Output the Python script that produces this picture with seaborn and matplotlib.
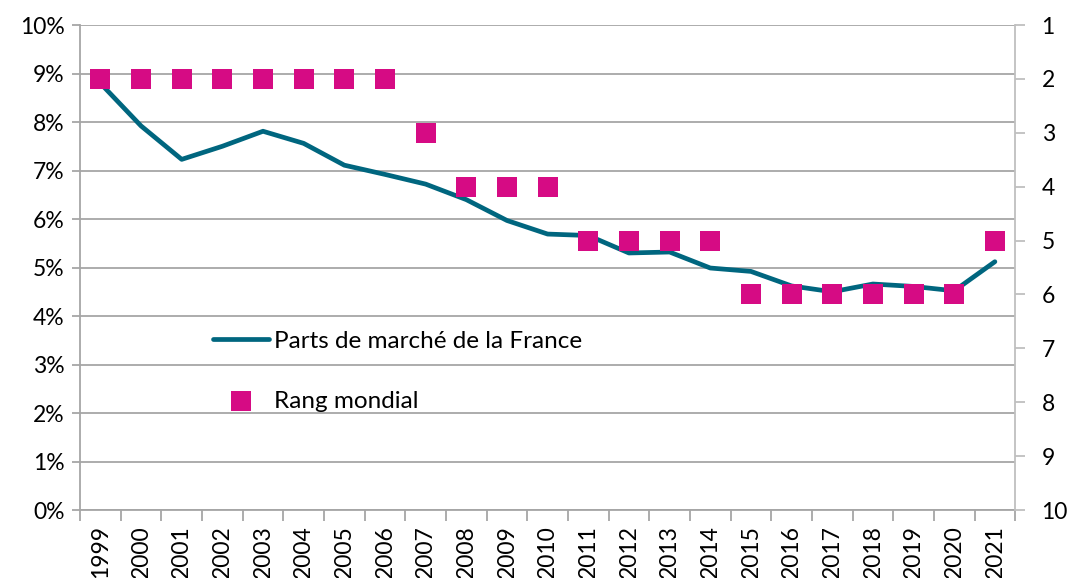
import numpy as np
import pandas as pd
import matplotlib
matplotlib.use("Agg")
import matplotlib.pyplot as plt
import seaborn as sns

# Données
annees = ["1999", "2000", "2001", "2002", "2003", "2004", "2005", "2006", "2007", "2008", "2009", "2010",
          "2011", "2012", "2013", "2014", "2015", "2016", "2017", "2018", "2019", "2020", "2021"]
parts_marche = [8.80, 7.92, 7.23, 7.50, 7.81, 7.56, 7.11, 6.92, 6.72, 6.40, 5.97, 5.69,
                5.66, 5.30, 5.32, 4.99, 4.92, 4.62, 4.50, 4.66, 4.61, 4.52, 5.12]
rang_mondial = [2, 2, 2, 2, 2, 2, 2, 2, 3, 4, 4, 4, 5, 5, 5, 5, 6, 6, 6, 6, 6, 6, 5]

df = pd.DataFrame({"annee": annees, "parts": parts_marche, "rang": rang_mondial})

sns.set_style("white")
plt.rcParams["font.family"] = ["Lato", "DejaVu Sans"]
plt.rcParams["text.color"] = "black"

bleu = "#00667f"
rose = "#d60b84"
gris = "#a6a6a6"

fig = plt.figure(figsize=(10.7, 5.78), dpi=100)
ax = fig.add_axes([0.0748, 0.1176, 0.874, 0.8391])

sns.lineplot(data=df, x="annee", y="parts", ax=ax, color=bleu, linewidth=3.4, sort=False,
             label="Parts de marché de la France", solid_capstyle="round", solid_joinstyle="round")

ax2 = ax.twinx()
sns.scatterplot(data=df, x="annee", y="rang", ax=ax2, marker="s", s=200, color=rose,
                linewidth=0, label="Rang mondial", zorder=3)

# axe gauche
ax.set_ylim(0, 10)
ax.set_yticks(np.arange(0, 11, 1))
ax.set_yticklabels([f"{v}%" for v in range(0, 11)], fontsize=16.5)
ax.yaxis.grid(True, color=gris, linewidth=1.3)
ax.set_axisbelow(True)
ax.tick_params(axis="y", which="major", length=6, color=gris, width=1.3, pad=5, labelcolor="black")

# axe des x : étiquettes au centre, graduations entre catégories
ax.set_xlim(-0.5, len(annees) - 0.5)
ax.set_xticks(np.arange(len(annees)))
ax.set_xticklabels(annees, rotation=90, fontsize=16.5)
ax.set_xticks(np.arange(-0.5, len(annees), 1), minor=True)
ax.tick_params(axis="x", which="major", length=0, pad=11, labelcolor="black")
ax.tick_params(axis="x", which="minor", length=8, color=gris, width=1.3, bottom=True)

# axe droit (rang inversé)
ax2.set_ylim(10, 1)
ax2.set_yticks(np.arange(1, 11))
ax2.set_yticklabels([str(v) for v in range(1, 11)], fontsize=16.5)
ax2.tick_params(axis="y", length=7, color="#bfbfbf", width=1.3, pad=12, labelcolor="black")

for a in (ax, ax2):
    a.set_xlabel("")
    a.set_ylabel("")
    a.spines["top"].set_visible(False)
ax.spines["right"].set_visible(False)
ax.spines["left"].set_color(gris)
ax.spines["bottom"].set_color(gris)
ax.spines["left"].set_linewidth(1.3)
ax.spines["bottom"].set_linewidth(1.3)
ax2.spines["left"].set_visible(False)
ax2.spines["bottom"].set_visible(False)
ax2.spines["right"].set_color("#bfbfbf")
ax2.spines["right"].set_linewidth(1.3)

# légende commune
h1, l1 = ax.get_legend_handles_labels()
h2, l2 = ax2.get_legend_handles_labels()
ax.get_legend().remove()
ax2.get_legend().remove()
fig.legend(h1 + h2, l1 + l2, loc="center left", bbox_to_anchor=(0.199, 0.358),
           bbox_transform=fig.transFigure, frameon=False, fontsize=17.5,
           handlelength=2.3, handletextpad=0.2, labelspacing=1.6,
           borderpad=0, borderaxespad=0)

fig.savefig("out.png", dpi=100)
